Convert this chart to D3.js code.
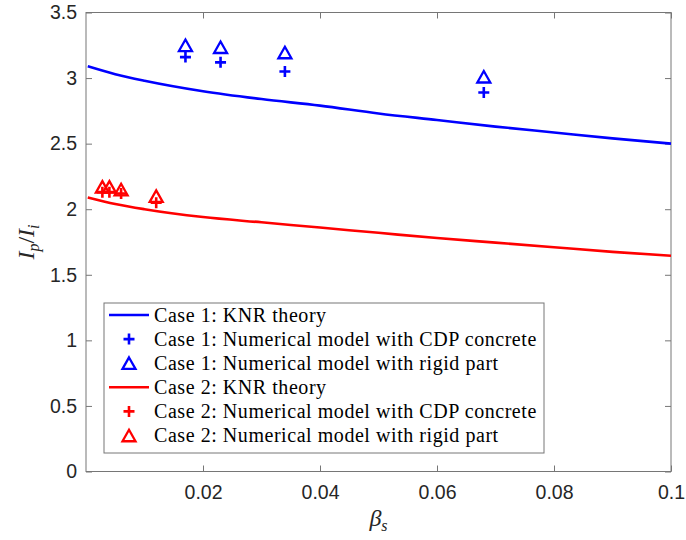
<!DOCTYPE html>
<html>
<head>
<meta charset="utf-8">
<script src="https://cdn.jsdelivr.net/npm/d3@7"></script>
<style>
  body { margin: 0; background: #fff; }
  svg { display: block; }
</style>
</head>
<body>
<svg id="chart" width="686" height="540"></svg>
<script>
// KNR theory curves (beta_s, Ip/Ii)
const betaGrid = [0.0003, 0.005, 0.01, 0.02, 0.03, 0.04, 0.05, 0.06, 0.07, 0.08, 0.09, 0.1];
const case1Theory = [3.09, 3.03, 2.98, 2.90, 2.84, 2.79, 2.73, 2.68, 2.63, 2.585, 2.54, 2.50];
const case2Theory = [2.09, 2.04, 2.00, 1.94, 1.90, 1.86, 1.82, 1.78, 1.745, 1.71, 1.675, 1.645];

// numerical model points
const case1Beta = [0.017, 0.023, 0.034, 0.068];
const case1CDP = [3.16, 3.12, 3.05, 2.89];
const case1Rigid = [3.25, 3.235, 3.195, 3.01];
const case2Beta = [0.0028, 0.004, 0.006, 0.012];
const case2CDP = [2.13, 2.13, 2.12, 2.05];
const case2Rigid = [2.17, 2.17, 2.15, 2.10];

const xTicks = [0.02, 0.04, 0.06, 0.08, 0.1];
const yTicks = [0, 0.5, 1, 1.5, 2, 2.5, 3, 3.5];

const legendItems = [
  { label: "Case 1: KNR theory", color: "#0000ff", type: "line" },
  { label: "Case 1: Numerical model with CDP concrete", color: "#0000ff", type: "plus" },
  { label: "Case 1: Numerical model with rigid part", color: "#0000ff", type: "tri" },
  { label: "Case 2: KNR theory", color: "#ff0000", type: "line" },
  { label: "Case 2: Numerical model with CDP concrete", color: "#ff0000", type: "plus" },
  { label: "Case 2: Numerical model with rigid part", color: "#ff0000", type: "tri" },
];

const svg = d3.select("#chart");
const margin = { top: 12.5, right: 15, bottom: 68.5, left: 86 };
const width = 686 - margin.left - margin.right;
const height = 540 - margin.top - margin.bottom;
const axisColor = "#767676";
const tickFont = "'Liberation Sans', Arial, sans-serif";
const serif = "'Liberation Serif', 'Times New Roman', serif";

const g = svg.append("g").attr("transform", `translate(${margin.left},${margin.top})`);

const x = d3.scaleLinear().domain([0, 0.1]).range([0, width]);
const y = d3.scaleLinear().domain([0, 3.5]).range([height, 0]);

// axes with inward ticks
const styleAxis = (sel) => {
  sel.select(".domain").remove();
  sel.selectAll("line").attr("stroke", axisColor);
  sel.selectAll("text")
    .style("font-family", tickFont)
    .style("font-size", "19.5px")
    .attr("fill", "#262626");
};

g.append("g")
  .attr("transform", `translate(0,${height})`)
  .call(d3.axisBottom(x).tickValues(xTicks).tickSizeInner(-6).tickPadding(14)
    .tickFormat((d) => (d === 0.1 ? "0.1" : d3.format(".2f")(d))))
  .call(styleAxis);

g.append("g")
  .call(d3.axisTop(x).tickValues(xTicks).tickSizeInner(-6).tickFormat(""))
  .call(styleAxis);

g.append("g")
  .call(d3.axisLeft(y).tickValues(yTicks).tickSizeInner(-6).tickPadding(9)
    .tickFormat((d) => String(d)))
  .call(styleAxis);

g.append("g")
  .attr("transform", `translate(${width},0)`)
  .call(d3.axisRight(y).tickValues(yTicks).tickSizeInner(-6).tickFormat(""))
  .call(styleAxis);

// axes box
g.append("rect")
  .attr("x", 0)
  .attr("y", 0)
  .attr("width", width)
  .attr("height", height)
  .attr("fill", "none")
  .attr("stroke", axisColor)
  .attr("stroke-width", 1);

// theory curves
const line = d3.line()
  .x((d) => x(d[0]))
  .y((d) => y(d[1]))
  .curve(d3.curveMonotoneX);

g.append("path")
  .datum(betaGrid.map((b, i) => [b, case1Theory[i]]))
  .attr("fill", "none")
  .attr("stroke", "#0000ff")
  .attr("stroke-width", 2.6)
  .attr("d", line);

g.append("path")
  .datum(betaGrid.map((b, i) => [b, case2Theory[i]]))
  .attr("fill", "none")
  .attr("stroke", "#ff0000")
  .attr("stroke-width", 2.6)
  .attr("d", line);

// marker helpers
const plusPath = (s) => `M${-s},0H${s}M0,${-s}V${s}`;
const triPath = (w, h) => `M0,${-h / 2}L${w / 2},${h / 2}L${-w / 2},${h / 2}Z`;

const drawPlus = (sel, color) =>
  sel.append("path")
    .attr("d", plusPath(5.5))
    .attr("fill", "none")
    .attr("stroke", color)
    .attr("stroke-width", 2.6);

const drawTri = (sel, color) =>
  sel.append("path")
    .attr("d", triPath(13, 11.5))
    .attr("fill", "none")
    .attr("stroke", color)
    .attr("stroke-width", 2.3)
    .attr("stroke-linejoin", "miter");

const markerSets = [
  { beta: case1Beta, vals: case1CDP, color: "#0000ff", draw: drawPlus },
  { beta: case1Beta, vals: case1Rigid, color: "#0000ff", draw: drawTri },
  { beta: case2Beta, vals: case2CDP, color: "#ff0000", draw: drawPlus },
  { beta: case2Beta, vals: case2Rigid, color: "#ff0000", draw: drawTri },
];

markerSets.forEach((set) => {
  set.beta.forEach((b, i) => {
    const m = g.append("g").attr("transform", `translate(${x(b)},${y(set.vals[i])})`);
    set.draw(m, set.color);
  });
});

// axis labels
const yLabel = svg.append("text")
  .attr("transform", `translate(34,${margin.top + height / 2}) rotate(-90)`)
  .attr("text-anchor", "middle")
  .style("font-family", serif)
  .style("font-size", "24px")
  .attr("fill", "#262626");
yLabel.append("tspan").style("font-style", "italic").text("I");
yLabel.append("tspan").style("font-style", "italic").style("font-size", "16px").attr("dy", 5).text("p");
yLabel.append("tspan").attr("dy", -5).text("/");
yLabel.append("tspan").style("font-style", "italic").text("I");
yLabel.append("tspan").style("font-style", "italic").style("font-size", "16px").attr("dy", 5).text("i");

const xLabel = svg.append("text")
  .attr("x", margin.left + width / 2)
  .attr("y", 526)
  .attr("text-anchor", "middle")
  .style("font-family", serif)
  .style("font-size", "24px")
  .attr("fill", "#262626");
xLabel.append("tspan").style("font-style", "italic").text("β");
xLabel.append("tspan").style("font-style", "italic").style("font-size", "16px").attr("dy", 5).text("s");

// legend
const legend = svg.append("g").attr("transform", "translate(104,303)");
legend.append("rect")
  .attr("width", 440)
  .attr("height", 150)
  .attr("fill", "#fff")
  .attr("stroke", axisColor)
  .attr("stroke-width", 1);

legendItems.forEach((d, i) => {
  const row = legend.append("g").attr("transform", `translate(0,${12 + i * 24.1})`);
  if (d.type === "line") {
    row.append("line")
      .attr("x1", 5).attr("x2", 45)
      .attr("stroke", d.color)
      .attr("stroke-width", 2.6);
  } else {
    const m = row.append("g").attr("transform", "translate(25,0)");
    (d.type === "plus" ? drawPlus : drawTri)(m, d.color);
  }
  row.append("text")
    .attr("class", "legend-label")
    .attr("x", 50)
    .attr("y", 6.5)
    .style("font-family", serif)
    .style("font-size", "20px")
    .style("letter-spacing", "0.55px")
    .attr("fill", "#000")
    .text(d.label);
});
</script>
</body>
</html>
